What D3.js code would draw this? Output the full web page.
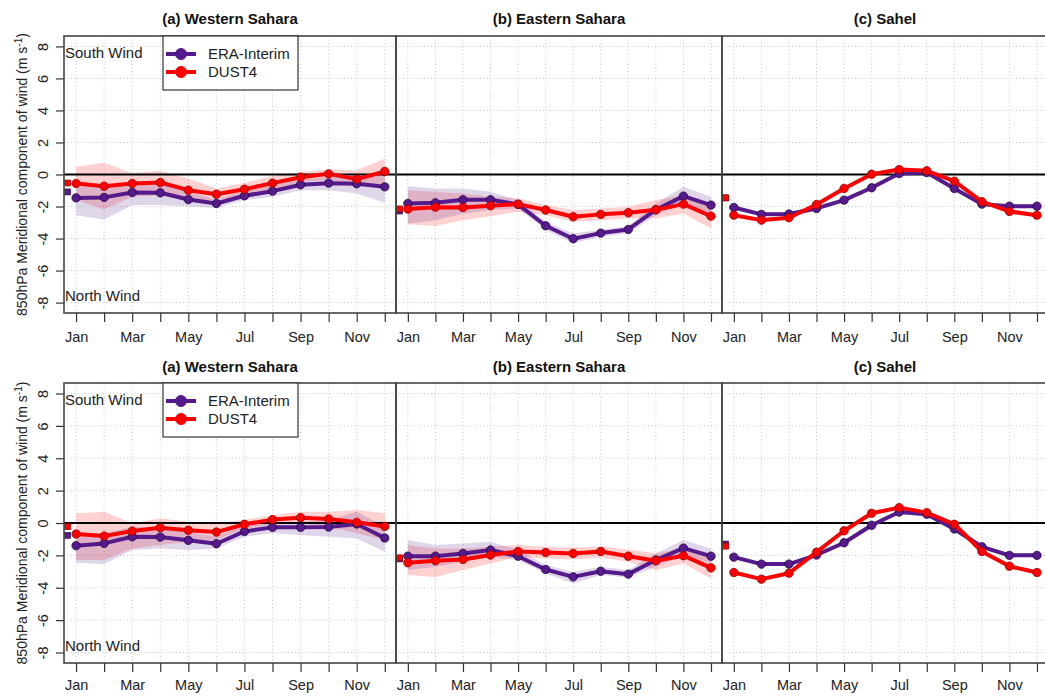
<!DOCTYPE html>
<html lang="en">
<head>
  <meta charset="UTF-8">
  <title>850hPa meridional wind</title>
  <script src="https://d3js.org/d3.v7.min.js"></script>
  <style>
    body { margin: 0; background: #fff; }
    svg { font-family: 'Liberation Sans', Arial, sans-serif; }
    .grid line { stroke: #c8c8c8; stroke-dasharray: 1 2.5; }
  </style>
</head>
<body>
  <div id="chart"></div>

  <script>
    const months = ["Jan", "Feb", "Mar", "Apr", "May", "Jun", "Jul", "Aug", "Sep", "Oct", "Nov", "Dec"];
    const yTicks = [-8, -6, -4, -2, 0, 2, 4, 6, 8];
    const regions = ["(a) Western Sahara", "(b) Eastern Sahara", "(c) Sahel"];
    const seriesNames = ["ERA-Interim", "DUST4"];

    // top row, ERA-Interim
    const eraTopA = [-1.46, -1.43, -1.12, -1.14, -1.56, -1.81, -1.33, -1.04, -0.64, -0.54, -0.58, -0.77];
    const eraTopALo = [-2.54, -2.81, -1.91, -1.91, -2.0, -2.1, -1.6, -1.39, -0.98, -0.98, -1.18, -1.77];
    const eraTopAHi = [-0.77, -0.67, -0.56, -0.52, -1.08, -1.56, -1.02, -0.67, -0.31, -0.15, -0.15, 0.06];
    const eraTopB = [-1.81, -1.77, -1.58, -1.58, -1.87, -3.2, -4.01, -3.66, -3.43, -2.2, -1.35, -1.91];
    const eraTopBLo = [-3.06, -2.85, -2.43, -2.22, -2.12, -3.47, -4.3, -3.89, -3.68, -2.54, -1.81, -2.43];
    const eraTopBHi = [-0.73, -0.87, -0.87, -1.08, -1.6, -2.95, -3.68, -3.47, -3.22, -1.81, -0.77, -1.39];
    const eraTopC = [-2.06, -2.49, -2.47, -2.12, -1.6, -0.83, 0.06, 0.12, -0.87, -1.85, -1.98, -1.98];
    const eraTopCLo = [-2.18, -2.6, -2.58, -2.24, -1.72, -0.95, -0.06, 0.0, -0.99, -1.97, -2.1, -2.1];
    const eraTopCHi = [-1.94, -2.38, -2.36, -2.0, -1.48, -0.71, 0.18, 0.24, -0.75, -1.73, -1.86, -1.86];

    // top row, DUST4
    const dustTopA = [-0.56, -0.73, -0.56, -0.5, -0.98, -1.23, -0.92, -0.54, -0.17, 0.04, -0.29, 0.19];
    const dustTopALo = [-1.6, -2.18, -1.39, -1.29, -1.6, -1.6, -1.29, -0.98, -0.46, -0.35, -0.77, -0.67];
    const dustTopAHi = [0.48, 0.73, 0.1, 0.23, -0.25, -0.87, -0.52, -0.1, 0.17, 0.31, 0.27, 1.0];
    const dustTopB = [-2.16, -2.04, -2.06, -1.95, -1.85, -2.22, -2.64, -2.49, -2.39, -2.2, -1.85, -2.6];
    const dustTopBLo = [-3.1, -3.22, -2.85, -2.6, -2.33, -2.54, -2.95, -2.85, -2.74, -2.74, -2.43, -3.37];
    const dustTopBHi = [-0.98, -1.08, -1.19, -1.39, -1.5, -1.91, -2.22, -2.12, -2.02, -1.6, -1.29, -1.91];
    const dustTopC = [-2.54, -2.85, -2.7, -1.87, -0.87, 0.02, 0.31, 0.23, -0.42, -1.7, -2.31, -2.54];
    const dustTopCLo = [-2.66, -2.97, -2.82, -1.99, -0.99, -0.1, 0.19, 0.11, -0.54, -1.82, -2.43, -2.66];
    const dustTopCHi = [-2.42, -2.73, -2.58, -1.75, -0.75, 0.14, 0.43, 0.35, -0.3, -1.58, -2.19, -2.42];

    // bottom row, ERA-Interim
    const eraBotA = [-1.4, -1.26, -0.85, -0.87, -1.07, -1.28, -0.52, -0.27, -0.27, -0.25, -0.06, -0.93];
    const eraBotALo = [-2.46, -2.54, -1.67, -1.57, -1.67, -1.57, -0.85, -0.64, -0.74, -0.85, -0.95, -1.78];
    const eraBotAHi = [-0.64, -0.64, -0.23, -0.33, -0.54, -0.85, -0.12, 0.08, 0.08, 0.19, 0.7, -0.23];
    const eraBotB = [-2.05, -2.05, -1.88, -1.67, -2.05, -2.87, -3.33, -2.98, -3.16, -2.29, -1.55, -2.05];
    const eraBotBLo = [-2.91, -2.71, -2.4, -2.09, -2.29, -3.12, -3.74, -3.22, -3.37, -2.71, -1.98, -2.5];
    const eraBotBHi = [-1.05, -1.36, -1.26, -1.16, -1.67, -2.6, -3.02, -2.71, -2.91, -1.88, -1.05, -1.57];
    const eraBotC = [-2.11, -2.54, -2.54, -1.98, -1.22, -0.14, 0.68, 0.54, -0.37, -1.47, -2.0, -2.0];
    const eraBotCLo = [-2.23, -2.66, -2.66, -2.1, -1.34, -0.26, 0.56, 0.42, -0.49, -1.59, -2.12, -2.12];
    const eraBotCHi = [-1.99, -2.42, -2.42, -1.86, -1.1, -0.02, 0.8, 0.66, -0.25, -1.35, -1.88, -1.88];

    // bottom row, DUST4
    const dustBotA = [-0.68, -0.81, -0.5, -0.29, -0.45, -0.56, -0.08, 0.21, 0.33, 0.25, 0.04, -0.21];
    const dustBotALo = [-2.29, -2.29, -1.57, -1.36, -1.16, -1.05, -0.33, -0.12, -0.02, -0.23, -0.64, -1.05];
    const dustBotAHi = [0.6, 0.7, -0.02, 0.29, 0.08, -0.02, 0.19, 0.5, 0.7, 0.7, 0.81, 0.6];
    const dustBotB = [-2.46, -2.33, -2.25, -1.98, -1.76, -1.82, -1.88, -1.76, -2.05, -2.33, -2.02, -2.77];
    const dustBotBLo = [-3.22, -3.33, -2.91, -2.5, -2.09, -2.19, -2.25, -2.13, -2.4, -2.91, -2.5, -3.43];
    const dustBotBHi = [-1.36, -1.57, -1.57, -1.47, -1.36, -1.47, -1.51, -1.43, -1.63, -1.88, -1.57, -2.09];
    const dustBotC = [-3.06, -3.47, -3.1, -1.8, -0.48, 0.6, 0.95, 0.64, -0.08, -1.76, -2.67, -3.06];
    const dustBotCLo = [-3.18, -3.59, -3.22, -1.92, -0.6, 0.48, 0.83, 0.52, -0.2, -1.88, -2.79, -3.18];
    const dustBotCHi = [-2.94, -3.35, -2.98, -1.68, -0.36, 0.72, 1.07, 0.76, 0.04, -1.64, -2.55, -2.94];

    // annual means (small squares left of Jan)
    const eraTopMean = [-1.09, -2.28, -1.46];
    const dustTopMean = [-0.53, -2.15, -1.46];
    const eraBotMean = [-0.76, -2.22, -1.3];
    const dustBotMean = [-0.23, -2.15, -1.43];

    const rows = [
      {
        top: 36, bottom: 313, titleY: 24, labelY: 342,
        era: [[eraTopA, eraTopALo, eraTopAHi], [eraTopB, eraTopBLo, eraTopBHi], [eraTopC, eraTopCLo, eraTopCHi]],
        dust: [[dustTopA, dustTopALo, dustTopAHi], [dustTopB, dustTopBLo, dustTopBHi], [dustTopC, dustTopCLo, dustTopCHi]],
        eraMean: eraTopMean, dustMean: dustTopMean
      },
      {
        top: 383, bottom: 663, titleY: 372, labelY: 690,
        era: [[eraBotA, eraBotALo, eraBotAHi], [eraBotB, eraBotBLo, eraBotBHi], [eraBotC, eraBotCLo, eraBotCHi]],
        dust: [[dustBotA, dustBotALo, dustBotAHi], [dustBotB, dustBotBLo, dustBotBHi], [dustBotC, dustBotCLo, dustBotCHi]],
        eraMean: eraBotMean, dustMean: dustBotMean
      }
    ];

    const panelLeft = [64, 396, 722];
    const panelWidth = [332, 326, 326];

    const eraColor = "#551a8b";
    const dustColor = "#ff0000";
    const font = "'Liberation Sans', Arial, sans-serif";

    const svg = d3.select("#chart").append("svg")
      .attr("width", 1045)
      .attr("height", 696);

    svg.append("rect").attr("width", 1045).attr("height", 696).attr("fill", "#fff");

    rows.forEach((row, ri) => {
      const y = d3.scaleLinear().domain([-8.65, 8.65]).range([row.bottom, row.top]);

      // y axis on the first panel only
      const yAxis = svg.append("g")
        .attr("transform", `translate(${panelLeft[0]},0)`)
        .call(d3.axisLeft(y).tickValues(yTicks).tickSize(8).tickFormat(d => String(d)));
      yAxis.select(".domain").remove();
      yAxis.selectAll(".tick line").attr("stroke", "#333").attr("stroke-width", 1.2);
      yAxis.selectAll(".tick text")
        .attr("x", 0)
        .attr("text-anchor", "middle")
        .attr("transform", "translate(-21,0) rotate(-90)")
        .attr("dy", "0.35em")
        .attr("fill", "#222")
        .style("font-size", "14.5px")
        .style("font-family", font);

      const yTitle = svg.append("text")
        .attr("transform", `translate(22,${y(0)}) rotate(-90)`)
        .attr("text-anchor", "middle")
        .attr("dy", "0.35em")
        .style("font-size", "14px")
        .attr("fill", "#222");
      yTitle.append("tspan").text("850hPa Meridional component of wind (m s");
      yTitle.append("tspan").attr("dy", "-5").style("font-size", "10px").text("-1");
      yTitle.append("tspan").attr("dy", "5").text(")");

      regions.forEach((title, ci) => {
        const x = d3.scaleLinear()
          .domain([0.57, 12.4])
          .range([panelLeft[ci], panelLeft[ci] + panelWidth[ci]]);
        const g = svg.append("g");
        const monthIdx = d3.range(1, 13);

        // grid
        const grid = g.append("g").attr("class", "grid");
        grid.selectAll("line.v").data(monthIdx).enter().append("line")
          .attr("x1", d => x(d)).attr("x2", d => x(d))
          .attr("y1", row.top).attr("y2", row.bottom);
        grid.selectAll("line.h").data(yTicks).enter().append("line")
          .attr("x1", x.range()[0]).attr("x2", x.range()[1])
          .attr("y1", d => y(d)).attr("y2", d => y(d));

        const series = [
          { data: row.dust[ci], color: dustColor, band: "rgba(255,0,0,0.18)", edge: "#990000", mean: row.dustMean[ci] },
          { data: row.era[ci], color: eraColor, band: "rgba(85,26,139,0.18)", edge: "#2a0a4a", mean: row.eraMean[ci] }
        ];

        // bands
        series.forEach(s => {
          const area = d3.area()
            .x((d, i) => x(i + 1))
            .y0((d, i) => y(s.data[1][i]))
            .y1((d, i) => y(s.data[2][i]));
          g.append("path").datum(s.data[0])
            .attr("d", area)
            .attr("fill", s.band);
        });

        // zero line
        g.append("line")
          .attr("x1", x.range()[0]).attr("x2", x.range()[1])
          .attr("y1", y(0)).attr("y2", y(0))
          .attr("stroke", "#000").attr("stroke-width", 2);

        // annual mean squares
        [series[1], series[0]].forEach(s => {
          g.append("rect")
            .attr("x", x(0.7) - 3).attr("y", y(s.mean) - 3)
            .attr("width", 6).attr("height", 6)
            .attr("fill", s.color)
            .attr("stroke", s.edge).attr("stroke-width", 0.6);
        });

        // lines and points (ERA below, DUST4 on top)
        [series[1], series[0]].forEach(s => {
          const line = d3.line().x((d, i) => x(i + 1)).y(d => y(d));
          g.append("path").datum(s.data[0])
            .attr("d", line)
            .attr("fill", "none")
            .attr("stroke", s.color)
            .attr("stroke-width", 4)
            .attr("stroke-linejoin", "round");
          g.selectAll(null).data(s.data[0]).enter().append("circle")
            .attr("cx", (d, i) => x(i + 1))
            .attr("cy", d => y(d))
            .attr("r", 4.2)
            .attr("fill", s.color)
            .attr("stroke", s.edge)
            .attr("stroke-width", 0.8);
        });

        // frame
        g.append("rect")
          .attr("x", x.range()[0]).attr("y", row.top)
          .attr("width", panelWidth[ci]).attr("height", row.bottom - row.top)
          .attr("fill", "none")
          .attr("stroke", "#444").attr("stroke-width", 1.6);

        // x axis
        const xAxis = g.append("g")
          .attr("transform", `translate(0,${row.bottom})`)
          .call(d3.axisBottom(x).tickValues(monthIdx).tickSize(9)
            .tickFormat(d => (d % 2 === 1 ? months[d - 1] : "")));
        xAxis.select(".domain").remove();
        xAxis.selectAll(".tick line").attr("stroke", "#333").attr("stroke-width", 1.2);
        xAxis.selectAll(".tick text")
          .attr("y", row.labelY - row.bottom)
          .attr("dy", 0)
          .attr("fill", "#222")
          .style("font-size", "14.5px")
          .style("font-family", font);

        // title
        svg.append("text")
          .attr("x", x.range()[0] + panelWidth[ci] / 2)
          .attr("y", row.titleY)
          .attr("text-anchor", "middle")
          .style("font-size", "15px")
          .style("font-weight", "bold")
          .attr("fill", "#111")
          .text(title);

        if (ci === 0) {
          g.append("text").attr("x", x.range()[0] + 1).attr("y", y(7.6))
            .attr("dy", "0.35em").style("font-size", "15px").attr("fill", "#222")
            .text("South Wind");
          g.append("text").attr("x", x.range()[0] + 1).attr("y", y(-7.6))
            .attr("dy", "0.35em").style("font-size", "15px").attr("fill", "#222")
            .text("North Wind");

          // legend
          const lg = g.append("g");
          lg.append("rect")
            .attr("x", 163).attr("y", row.top)
            .attr("width", 135).attr("height", 54)
            .attr("fill", "#fff").attr("stroke", "#333").attr("stroke-width", 1.2);
          [series[1], series[0]].forEach((s, k) => {
            const ly = row.top + 18 + k * 18;
            lg.append("line").attr("x1", 166).attr("x2", 196).attr("y1", ly).attr("y2", ly)
              .attr("stroke", s.color).attr("stroke-width", 4);
            lg.append("circle").attr("cx", 181).attr("cy", ly).attr("r", 5.5)
              .attr("fill", s.color).attr("stroke", s.color);
            lg.append("text").attr("x", 208).attr("y", ly).attr("dy", "0.35em")
              .style("font-size", "15px").attr("fill", "#222")
              .text(seriesNames[k]);
          });
        }
      });
    });
  </script>
</body>
</html>
